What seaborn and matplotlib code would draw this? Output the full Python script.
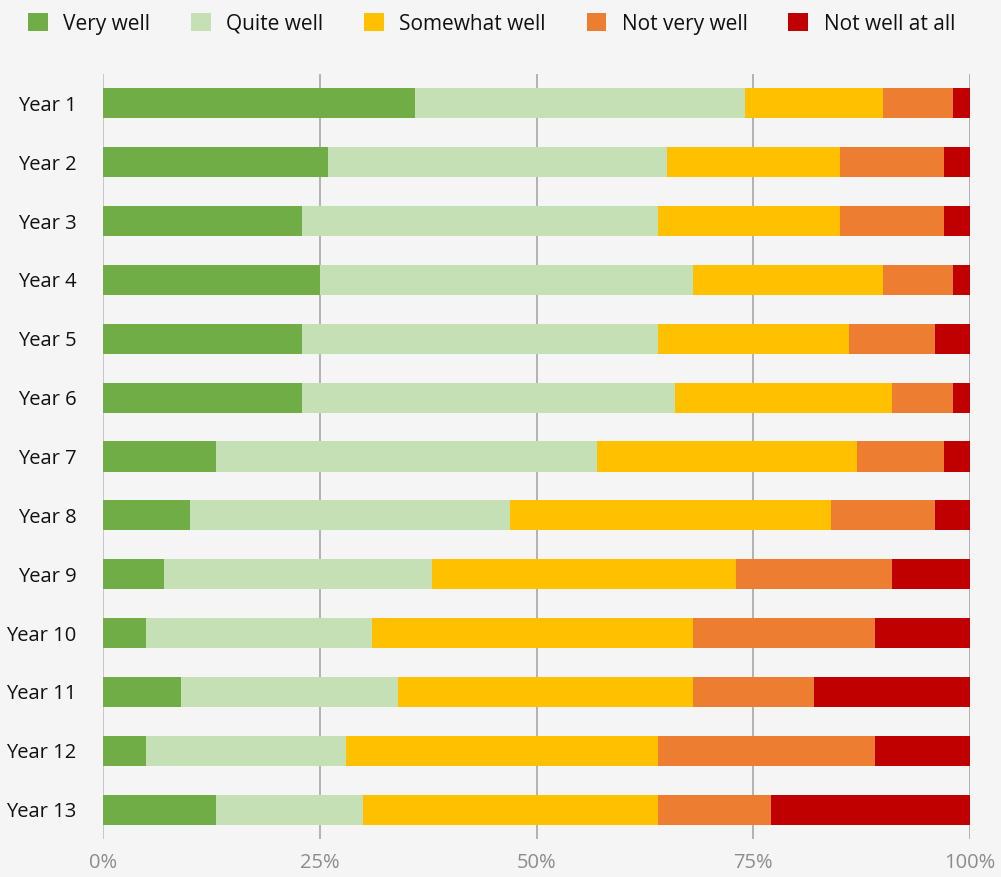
import matplotlib
matplotlib.use("Agg")
import matplotlib.pyplot as plt
import seaborn as sns
import pandas as pd
import numpy as np
from matplotlib.patches import Patch

years = [f"Year {i}" for i in range(1, 14)]
series_names = ["Very well", "Quite well", "Somewhat well", "Not very well", "Not well at all"]
very_well      = [36, 26, 23, 25, 23, 23, 13, 10, 7, 5, 9, 5, 13]
quite_well     = [38, 39, 41, 43, 41, 43, 44, 37, 31, 26, 25, 23, 17]
somewhat_well  = [16, 20, 21, 22, 22, 25, 30, 37, 35, 37, 34, 36, 34]
not_very_well  = [8, 12, 12, 8, 10, 7, 10, 12, 18, 21, 14, 25, 13]
not_well_at_all = [2, 3, 3, 2, 4, 2, 3, 4, 9, 11, 18, 11, 23]
colors = ["#70AD47", "#C5E0B4", "#FFC000", "#ED7D31", "#C00000"]
x_ticks = [0, 25, 50, 75, 100]
x_labels = ["0%", "25%", "50%", "75%", "100%"]

sns.set_theme(style="white")
plt.rcParams['font.family'] = ['Open Sans', 'DejaVu Sans']

bg = "#F5F5F5"
fig = plt.figure(figsize=(10.01, 8.77), dpi=100, facecolor=bg)
ax = fig.add_axes([103/1001, 1 - 839/877, 867/1001, 765/877])
ax.set_facecolor(bg)

values = [very_well, quite_well, somewhat_well, not_very_well, not_well_at_all]
cum = np.cumsum(np.array(values, dtype=float), axis=0)

for i in range(len(series_names) - 1, -1, -1):
    df = pd.DataFrame({"year": years, "value": cum[i]})
    sns.barplot(data=df, x="value", y="year", orient="h", color=colors[i],
                saturation=1, width=0.51, ax=ax, linewidth=0, zorder=3)

ax.set_xlim(0, 100)
ax.set_ylim(12.5, -0.5)
ax.set_xticks(x_ticks)
ax.set_xticklabels(x_labels, color="#8C8C8C", fontsize=14.5)
ax.tick_params(axis="y", labelsize=14.5, labelcolor="#111111", length=0, pad=19)
ax.tick_params(axis="x", length=0, pad=10)
ax.set_xlabel("")
ax.set_ylabel("")
for s in ax.spines.values():
    s.set_visible(False)
for xt in x_ticks:
    ax.axvline(xt, color="#A6A6A6" if xt else "#BFBFBF", linewidth=1.2, zorder=1)

handles = [Patch(facecolor=c, edgecolor="none", label=n) for c, n in zip(colors, series_names)]
fig.legend(handles=handles, loc="upper center", bbox_to_anchor=(0.491, 1.006), ncol=5,
           frameon=False, fontsize=15, handlelength=0.95, handleheight=0.95,
           columnspacing=1.95, handletextpad=0.75, labelcolor="#111111")

fig.savefig("out.png", dpi=100, facecolor=bg)
